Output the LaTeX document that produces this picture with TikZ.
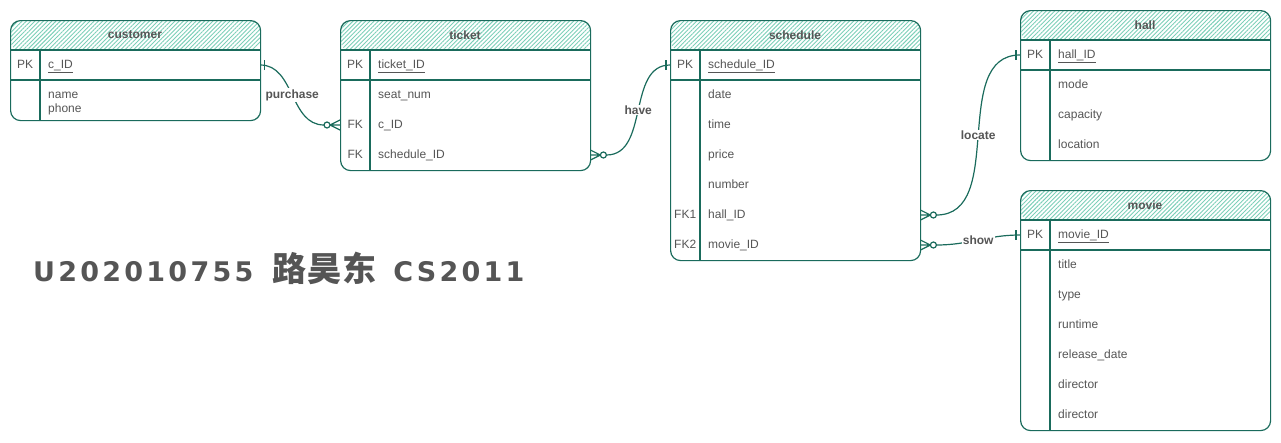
\documentclass[tikz,border=0pt]{standalone}
\usepackage{fontspec}
\setmainfont{Liberation Sans}
\newfontfamily\cjk{Noto Sans CJK SC}[LetterSpace=3]
\newfontfamily\bigfont{DejaVu Sans}[LetterSpace=12]
\usetikzlibrary{patterns.meta}
\definecolor{erline}{HTML}{1A6B5C}
\definecolor{erhatch}{HTML}{7CCFB8}
\definecolor{ertext}{HTML}{555555}

\begin{document}
\begin{tikzpicture}[x=1pt,y=-1pt]
    \tikzset{
        tbl/.style={draw=erline,line width=1.2pt,rounded corners=10pt,anchor=north west,minimum width=250pt,inner sep=0pt,
            path picture={\fill[pattern={Lines[angle=45,distance=3pt,line width=0.9pt]},pattern color=erhatch]
                (path picture bounding box.north west) rectangle ([yshift=-30pt]path picture bounding box.north east);}},
        hdr/.style={font=\bfseries\fontsize{12}{14}\selectfont,text=ertext},
        key/.style={anchor=west,minimum width=30pt,text height=9pt,text depth=3pt,inner sep=0pt,font=\fontsize{12}{14}\selectfont,text=ertext},
        fld/.style={anchor=west,text width=204pt,inner xsep=8pt,inner ysep=0pt,text height=9pt,text depth=3pt,align=left,font=\fontsize{12}{14}\selectfont,text=ertext},
        rel/.style={draw=erline,line width=1.2pt},
        lbl/.style={fill=white,inner sep=1pt,font=\bfseries\fontsize{12}{14}\selectfont,text=ertext},
        crowzero/.pic={\draw[rel] (0,-5) -- (-10,0) -- (0,5) (0,0) -- (-16,0); \draw[rel,fill=white] (-13,0) circle[radius=3];},
        onebar/.pic={\draw[rel] (-4,-5) -- (-4,5);}
    }
    \useasboundingbox (0,0) rectangle (1281,442);

    % customer
    \node[tbl,minimum height=100pt] (customer) at (10,20) {};
    \draw[rel] (10,50) -- (260,50) (10,80) -- (260,80) (40,50) -- (40,120);
    \node[hdr] (customer-title) at (135,35) {customer};
    \node[key] (customer-cid-key) at (10,65) {PK};
    \node[fld] (customer-cid) at (40,65) {\underline{c\_ID}};
    \node[fld,text height=16pt,text depth=3pt] (customer-info) at (40,92) {name\\phone};

    % ticket
    \node[tbl,minimum height=150pt] (ticket) at (340,20) {};
    \draw[rel] (340,50) -- (590,50) (340,80) -- (590,80) (370,50) -- (370,170);
    \node[hdr] (ticket-title) at (465,35) {ticket};
    \node[key] (ticket-pk-key) at (340,65) {PK};
    \node[fld] (ticket-pk) at (370,65) {\underline{ticket\_ID}};
    \foreach \y/\k/\f/\n in {95//seat\_num/seat, 125/FK/c\_ID/cid, 155/FK/schedule\_ID/sid}{
        \node[key] (ticket-\n-key) at (340,\y) {\k};
        \node[fld] (ticket-\n) at (370,\y) {\f};
    }

    % schedule
    \node[tbl,minimum height=240pt] (schedule) at (670,20) {};
    \draw[rel] (670,50) -- (920,50) (670,80) -- (920,80) (700,50) -- (700,260);
    \node[hdr] (schedule-title) at (795,35) {schedule};
    \node[key] (schedule-pk-key) at (670,65) {PK};
    \node[fld] (schedule-pk) at (700,65) {\underline{schedule\_ID}};
    \foreach \y/\k/\f/\n in {95//date/date, 125//time/time, 155//price/price, 185//number/number,
                             215/FK1/hall\_ID/hid, 245/FK2/movie\_ID/mid}{
        \node[key] (schedule-\n-key) at (670,\y) {\k};
        \node[fld] (schedule-\n) at (700,\y) {\f};
    }

    % hall
    \node[tbl,minimum height=150pt] (hall) at (1020,10) {};
    \draw[rel] (1020,40) -- (1270,40) (1020,70) -- (1270,70) (1050,40) -- (1050,160);
    \node[hdr] (hall-title) at (1145,25) {hall};
    \node[key] (hall-pk-key) at (1020,55) {PK};
    \node[fld] (hall-pk) at (1050,55) {\underline{hall\_ID}};
    \foreach \y/\f/\n in {85/mode/mode, 115/capacity/capacity, 145/location/location}{
        \node[fld] (hall-\n) at (1050,\y) {\f};
    }

    % movie
    \node[tbl,minimum height=240pt] (movie) at (1020,190) {};
    \draw[rel] (1020,220) -- (1270,220) (1020,250) -- (1270,250) (1050,220) -- (1050,430);
    \node[hdr] (movie-title) at (1145,205) {movie};
    \node[key] (movie-pk-key) at (1020,235) {PK};
    \node[fld] (movie-pk) at (1050,235) {\underline{movie\_ID}};
    \foreach \y/\f/\n in {265/title/title, 295/type/type, 325/runtime/runtime, 355/release\_date/release,
                          385/director/director, 415/director/directorb}{
        \node[fld] (movie-\n) at (1050,\y) {\f};
    }

    % relations
    \draw[rel] (customer-cid.east) to[out=0,in=180] node[lbl] {purchase} ([xshift=-16pt]ticket-cid-key.west);
    \pic[rotate=180] at (customer-cid.east) {onebar};
    \pic at (ticket-cid-key.west) {crowzero};

    \draw[rel] ([xshift=16pt]ticket-sid.east) to[out=0,in=180] node[lbl] {have} (schedule-pk-key.west);
    \pic[rotate=180] at (ticket-sid.east) {crowzero};
    \pic at (schedule-pk-key.west) {onebar};

    \draw[rel] ([xshift=16pt]schedule-hid.east) to[out=0,in=180] node[lbl] {locate} (hall-pk-key.west);
    \pic[rotate=180] at (schedule-hid.east) {crowzero};
    \pic at (hall-pk-key.west) {onebar};

    \draw[rel] ([xshift=16pt]schedule-mid.east) to[out=0,in=180] node[lbl] {show} (movie-pk-key.west);
    \pic[rotate=180] at (schedule-mid.east) {crowzero};
    \pic at (movie-pk-key.west) {onebar};

    \node[anchor=west,inner sep=0pt,text=ertext,font=\fontsize{27}{30}\selectfont] (author) at (33,268)
        {\bigfont\bfseries U202010755\hskip 19pt{\cjk\bfseries\fontsize{34}{34}\selectfont 路昊东}\hskip 17pt CS2011};
\end{tikzpicture}
\end{document}
